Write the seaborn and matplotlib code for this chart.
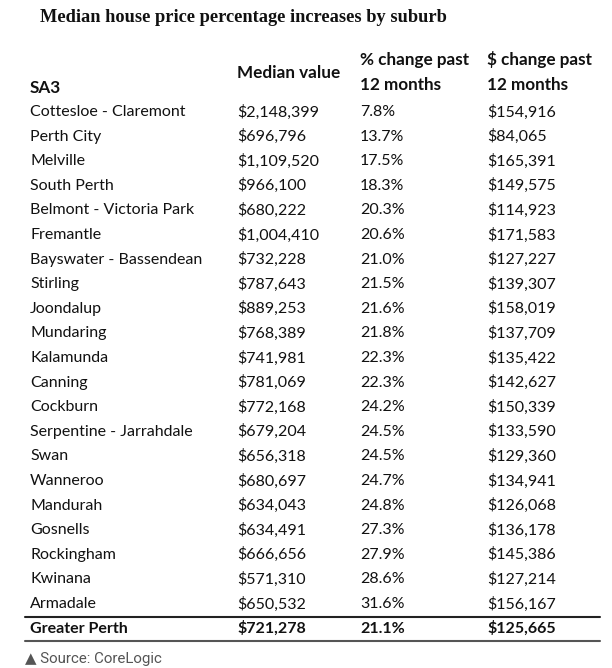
import matplotlib.pyplot as plt
import seaborn as sns

# table data
suburbs = ["Cottesloe - Claremont", "Perth City", "Melville", "South Perth",
           "Belmont - Victoria Park", "Fremantle", "Bayswater - Bassendean",
           "Stirling", "Joondalup", "Mundaring", "Kalamunda", "Canning",
           "Cockburn", "Serpentine - Jarrahdale", "Swan", "Wanneroo",
           "Mandurah", "Gosnells", "Rockingham", "Kwinana", "Armadale"]
median_value = ["$2,148,399", "$696,796", "$1,109,520", "$966,100", "$680,222",
                "$1,004,410", "$732,228", "$787,643", "$889,253", "$768,389",
                "$741,981", "$781,069", "$772,168", "$679,204", "$656,318",
                "$680,697", "$634,043", "$634,491", "$666,656", "$571,310",
                "$650,532"]
pct_change = ["7.8%", "13.7%", "17.5%", "18.3%", "20.3%", "20.6%", "21.0%",
              "21.5%", "21.6%", "21.8%", "22.3%", "22.3%", "24.2%", "24.5%",
              "24.5%", "24.7%", "24.8%", "27.3%", "27.9%", "28.6%", "31.6%"]
dollar_change = ["$154,916", "$84,065", "$165,391", "$149,575", "$114,923",
                 "$171,583", "$127,227", "$139,307", "$158,019", "$137,709",
                 "$135,422", "$142,627", "$150,339", "$133,590", "$129,360",
                 "$134,941", "$126,068", "$136,178", "$145,386", "$127,214",
                 "$156,167"]
total_row = ["Greater Perth", "$721,278", "21.1%", "$125,665"]

sns.set_theme(style="white")
plt.rcParams['font.family'] = ['Lato', 'DejaVu Sans']

fig = plt.figure(figsize=(6.12, 6.68), dpi=100)
ax = fig.add_axes([0, 0, 1, 1])
ax.set_xlim(0, 612)
ax.set_ylim(668, 0)
ax.axis('off')

col_x = [30, 237, 360, 487]
row0, step = 112, 24.6
fs = 11.5
hfs = 12.3
ink = "#111111"

# title
ax.text(40, 17, "Median house price percentage increases by suburb",
        family=['Liberation Serif'], fontweight='bold', fontsize=13.2,
        color=ink, va='center', ha='left')

# header
hdr = dict(fontsize=hfs, fontweight='bold', color=ink, va='center')
ax.text(col_x[0], 88, "SA3", **hdr)
ax.text(col_x[1], 73, "Median value", **hdr)
ax.text(col_x[2], 60, "% change past", **hdr)
ax.text(col_x[2], 85, "12 months", **hdr)
ax.text(col_x[3], 60, "$ change past", **hdr)
ax.text(col_x[3], 85, "12 months", **hdr)

# body rows
for i, row in enumerate(zip(suburbs, median_value, pct_change, dollar_change)):
    y = row0 + i * step
    for x, val in zip(col_x, row):
        ax.text(x, y, val, fontsize=fs, color=ink, va='center')

# total row
yt = row0 + len(suburbs) * step
for x, val in zip(col_x, total_row):
    ax.text(x, yt, val, fontsize=fs, fontweight='bold', color=ink, va='center')

ax.plot([25, 600], [617, 617], color="#222222", lw=1.5)
ax.plot([25, 600], [641, 641], color="#555555", lw=1.5)

# source
ax.text(25, 659, "▲ Source: CoreLogic", family=['Roboto', 'DejaVu Sans'],
        fontsize=10.8, color="#555555", va='center')

fig.savefig("out.png", dpi=100)
